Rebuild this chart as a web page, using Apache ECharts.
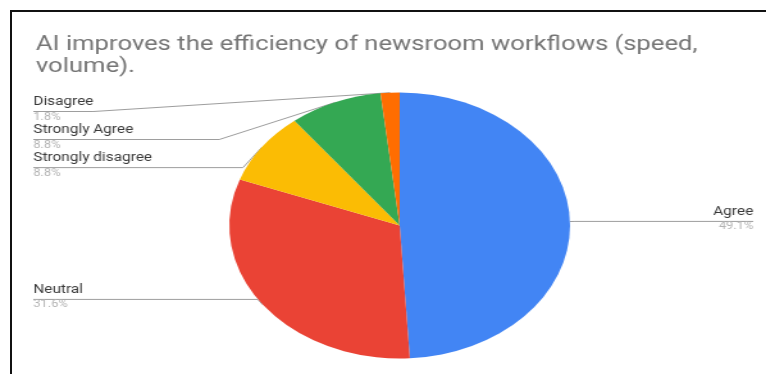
<!DOCTYPE html>
<html>
<head>
<meta charset="utf-8">
<script src="https://cdn.jsdelivr.net/npm/echarts@6/dist/echarts.min.js"></script>
<style>
  html, body { margin: 0; padding: 0; background: #fff; overflow: hidden; }
  #frame {
    position: absolute; left: 10px; top: 10px; width: 760px; height: 370px;
    border-left: 2px solid #111; border-top: 2px solid #111; box-sizing: border-box;
    pointer-events: none; z-index: 2;
  }
  /* chart is drawn narrower and stretched horizontally to the full width */
  #chart {
    position: absolute; left: 0; top: 0; width: 598px; height: 374px;
    transform: scaleX(1.281); transform-origin: 0 0;
  }
</style>
</head>
<body>
<div id="chart"></div>
<div id="frame"></div>
<script>
const titleText = 'AI improves the efficiency of newsroom workflows (speed,\nvolume).';
const categories = ['Agree', 'Neutral', 'Strongly disagree', 'Strongly Agree', 'Disagree'];
const shares = [49.1, 31.6, 8.8, 8.8, 1.8];
const colors = ['#4285F4', '#EA4335', '#FBBC04', '#34A853', '#FF6D01'];

const chart = echarts.init(document.getElementById('chart'), null, { renderer: 'canvas' });

const data = categories.map((name, i) => {
  const item = { name: name, value: shares[i], itemStyle: { color: colors[i] } };
  if (name === 'Agree') item.label = { edgeDistance: 10 };
  // leader starts just inside the slice
  if (name === 'Neutral') item.labelLine = { length: -9 };
  return item;
});

chart.setOption({
  animation: false,
  backgroundColor: '#fff',
  title: {
    text: titleText,
    left: 23,
    top: 29,
    textStyle: {
      fontFamily: 'Roboto',
      fontSize: 20,
      fontWeight: 'normal',
      color: '#757575',
      lineHeight: 22
    }
  },
  series: [{
    type: 'pie',
    left: 0,
    right: 0,
    top: 95,
    bottom: 0,
    center: [312, 130.5],
    radius: 133,
    startAngle: 90,
    clockwise: true,
    avoidLabelOverlap: true,
    itemStyle: { borderWidth: 0 },
    label: {
      show: true,
      position: 'outside',
      alignTo: 'edge',
      edgeDistance: 26,
      distanceToLabelLine: 0,
      formatter: p => '{n|' + p.name + '}\n{v|' + p.value.toFixed(1) + '%}',
      rich: {
        n: { fontFamily: 'Roboto', fontSize: 12, color: '#3a3a3a', lineHeight: 11 },
        v: { fontFamily: 'Roboto', fontSize: 10, color: '#b3b3b3', lineHeight: 19 }
      }
    },
    labelLine: {
      show: true,
      length: 4,
      length2: 40,
      smooth: false,
      lineStyle: { color: '#9e9e9e', width: 1 }
    },
    labelLayout: function (params) {
      let pts = params.labelLinePoints;
      if (!pts || pts.length < 3) return {};
      const r = params.labelRect;
      const isLeft = pts[2][0] < pts[0][0];
      // an elbow lying inside the slice makes the outer-edge start point redundant
      if ((isLeft && pts[1][0] > pts[0][0]) || (!isLeft && pts[1][0] < pts[0][0])) {
        pts = pts.slice(1);
      }
      // run the leader line underneath the whole label text
      const last = pts[pts.length - 1];
      last[0] = isLeft ? r.x : r.x + r.width;
      return { labelLinePoints: pts };
    },
    data: data
  }]
});
</script>
</body>
</html>
